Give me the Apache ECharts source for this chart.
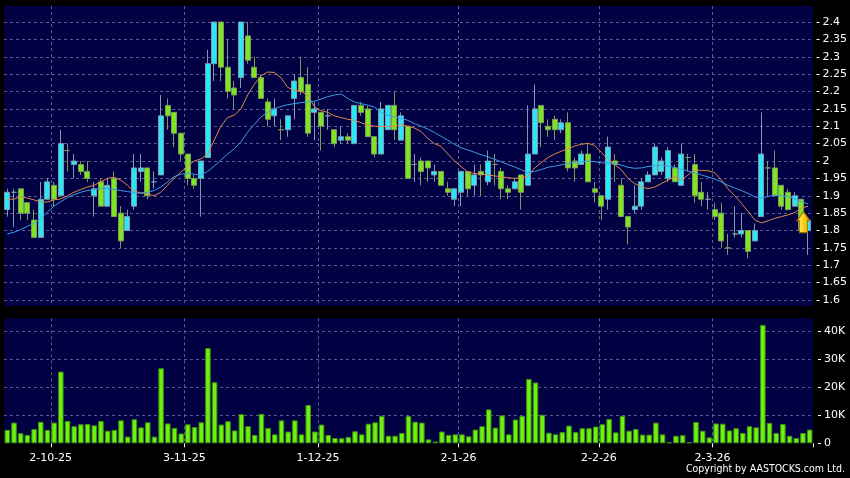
<!DOCTYPE html>
<html><head><meta charset="utf-8">
<script src="https://cdn.jsdelivr.net/npm/echarts@6/dist/echarts.min.js"></script>
<style>html,body{margin:0;padding:0;background:#000;}#c{width:850px;height:478px;}</style>
</head><body><div id="c"></div>
<script>
const dates = [
"22-9-25","23-9-25","24-9-25","25-9-25","26-9-25","29-9-25","30-9-25",
"2-10-25","3-10-25","6-10-25","8-10-25","9-10-25","10-10-25","13-10-25","14-10-25","15-10-25","16-10-25","17-10-25","20-10-25","21-10-25","22-10-25","23-10-25","24-10-25","27-10-25","28-10-25","30-10-25","31-10-25",
"3-11-25","4-11-25","5-11-25","6-11-25","7-11-25","10-11-25","11-11-25","12-11-25","13-11-25","14-11-25","17-11-25","18-11-25","19-11-25","20-11-25","21-11-25","24-11-25","25-11-25","26-11-25","27-11-25","28-11-25",
"1-12-25","2-12-25","3-12-25","4-12-25","5-12-25","8-12-25","9-12-25","10-12-25","11-12-25","12-12-25","15-12-25","16-12-25","17-12-25","18-12-25","19-12-25","22-12-25","23-12-25","24-12-25","29-12-25","30-12-25","31-12-25",
"2-1-26","5-1-26","6-1-26","7-1-26","8-1-26","9-1-26","12-1-26","13-1-26","14-1-26","15-1-26","16-1-26","19-1-26","20-1-26","21-1-26","22-1-26","23-1-26","26-1-26","27-1-26","28-1-26","29-1-26","30-1-26",
"2-2-26","3-2-26","4-2-26","5-2-26","6-2-26","9-2-26","10-2-26","11-2-26","12-2-26","13-2-26","16-2-26","20-2-26","23-2-26","24-2-26","25-2-26","26-2-26","27-2-26",
"2-3-26","3-3-26","4-3-26","5-3-26","6-3-26","9-3-26","10-3-26","11-3-26","12-3-26","13-3-26","16-3-26","17-3-26","18-3-26","19-3-26","20-3-26"];

const tickLabels = ["2-10-25","3-11-25","1-12-25","2-1-26","2-2-26","2-3-26"];

const opens = [1.86,1.91,1.92,1.88,1.83,1.78,1.89,1.93,1.90,2.03,
1.99,1.99,1.97,1.90,1.94,1.87,1.95,1.85,1.80,1.87,
1.97,1.98,1.94,1.96,2.16,2.14,2.08,2.02,1.95,1.95,
2.01,2.28,2.40,2.27,2.21,2.24,2.36,2.27,2.24,2.17,
2.13,2.09,2.09,2.18,2.24,2.22,2.14,2.14,2.13,2.09,
2.06,2.07,2.05,2.16,2.15,2.07,2.02,2.09,2.16,2.06,
2.10,1.99,2.00,2.00,1.96,1.97,1.92,1.89,1.91,1.97,
1.93,1.97,1.94,1.99,1.97,1.92,1.92,1.96,1.93,2.02,
2.16,2.10,2.12,2.09,2.11,2.00,1.99,2.02,1.92,1.90,
1.89,2.00,1.93,1.84,1.86,1.87,1.94,1.96,1.97,1.95,
1.98,1.93,2.01,1.99,1.91,1.89,1.86,1.85,1.75,1.79,
1.79,1.80,1.77,1.84,1.98,1.98,1.93,1.91,1.87,1.89,1.80];
const closes = [1.91,1.91,1.85,1.85,1.78,1.89,1.94,1.89,2.05,2.03,
2.00,1.97,1.95,1.92,1.87,1.93,1.84,1.77,1.84,1.98,
1.98,1.90,1.94,2.13,2.13,2.08,2.02,1.95,1.93,2.00,
2.28,2.40,2.27,2.20,2.19,2.40,2.29,2.24,2.18,2.12,
2.15,2.09,2.13,2.23,2.20,2.08,2.15,2.10,2.13,2.05,
2.07,2.06,2.16,2.14,2.07,2.02,2.15,2.16,2.09,2.13,
1.95,1.99,1.97,1.98,1.97,1.93,1.91,1.92,1.97,1.92,
1.96,1.96,2.00,1.99,1.92,1.91,1.94,1.91,2.02,2.15,
2.11,2.09,2.09,2.11,1.98,1.98,2.02,1.94,1.91,1.87,
2.04,1.99,1.84,1.81,1.87,1.94,1.96,2.04,2.00,2.03,
1.94,2.02,2.01,1.90,1.89,1.89,1.84,1.77,1.75,1.79,
1.80,1.74,1.80,2.02,1.98,1.90,1.87,1.86,1.90,1.80,1.83];
const lows = [1.84,1.81,1.83,1.83,1.78,1.78,1.89,1.87,1.90,1.97,
1.95,1.96,1.94,1.84,1.87,1.87,1.84,1.75,1.80,1.86,
1.94,1.89,1.92,1.96,2.09,2.04,2.00,1.93,1.92,1.84,
2.01,2.23,2.23,2.18,2.15,2.21,2.28,2.24,2.18,2.10,
2.10,2.06,2.07,2.12,2.19,2.07,2.06,2.03,2.09,2.04,
2.05,2.05,2.05,2.13,2.07,2.01,2.02,2.09,2.06,2.06,
1.95,1.94,1.93,1.94,1.94,1.93,1.90,1.87,1.87,1.90,
1.90,1.90,1.93,1.93,1.89,1.89,1.92,1.86,1.93,2.02,
2.04,2.07,2.06,2.08,1.97,1.94,1.99,1.94,1.88,1.83,
1.86,1.94,1.84,1.76,1.85,1.86,1.94,1.96,1.96,1.94,
1.94,1.93,1.97,1.88,1.87,1.86,1.83,1.75,1.73,1.78,
1.78,1.72,1.77,1.84,1.90,1.90,1.86,1.86,1.87,1.80,1.73];
const highs = [1.92,1.92,1.92,1.88,1.86,1.94,1.95,1.94,2.09,2.05,
2.02,2.00,2.00,1.94,1.95,1.95,1.97,1.87,1.86,2.02,
2.02,1.98,1.97,2.19,2.18,2.14,2.08,2.02,1.96,2.00,
2.32,2.40,2.40,2.35,2.23,2.40,2.40,2.30,2.25,2.18,
2.18,2.12,2.13,2.25,2.30,2.27,2.17,2.14,2.15,2.09,
2.10,2.08,2.16,2.17,2.16,2.07,2.17,2.16,2.20,2.14,
2.10,2.02,2.01,2.00,1.99,1.97,1.94,1.92,1.97,1.97,
1.99,1.99,2.03,2.02,1.98,1.93,1.95,1.96,2.16,2.22,
2.16,2.12,2.13,2.12,2.14,2.01,2.03,2.05,1.94,1.90,
2.07,2.02,1.95,1.84,1.93,1.95,1.97,2.05,2.01,2.04,
1.99,2.05,2.02,2.02,1.94,1.91,1.88,1.88,1.79,1.87,
1.85,1.80,1.82,2.14,2.00,2.03,1.93,1.92,1.91,1.89,1.83];

const ma10 = [1.890,1.890,1.897,1.893,1.888,1.882,1.882,1.888,1.891,1.900,
1.910,1.918,1.925,1.930,1.940,1.950,1.953,1.945,1.930,1.912,
1.909,1.905,1.900,1.910,1.930,1.950,1.968,1.985,2.000,2.006,
2.020,2.060,2.100,2.125,2.132,2.150,2.190,2.220,2.245,2.256,
2.255,2.240,2.212,2.203,2.200,2.190,2.156,2.145,2.140,2.130,
2.125,2.120,2.117,2.110,2.104,2.100,2.099,2.099,2.100,2.104,
2.100,2.095,2.085,2.065,2.050,2.042,2.020,2.000,1.984,1.968,
1.964,1.962,1.960,1.957,1.955,1.952,1.950,1.952,1.955,1.980,
1.995,2.010,2.020,2.028,2.035,2.043,2.048,2.051,2.045,2.025,
2.005,1.990,1.975,1.950,1.935,1.926,1.920,1.925,1.935,1.945,
1.955,1.945,1.960,1.974,1.973,1.972,1.966,1.945,1.920,1.900,
1.878,1.855,1.830,1.822,1.828,1.835,1.840,1.845,1.852,1.865,1.870];
const ma20 = [1.790,1.795,1.803,1.812,1.820,1.835,1.853,1.870,1.883,1.895,
1.903,1.910,1.915,1.918,1.921,1.921,1.918,1.915,1.912,1.909,
1.907,1.910,1.915,1.925,1.940,1.955,1.962,1.965,1.962,1.960,
1.970,1.985,2.003,2.020,2.035,2.055,2.083,2.105,2.127,2.140,
2.150,2.157,2.162,2.165,2.168,2.170,2.172,2.178,2.185,2.190,
2.193,2.180,2.170,2.165,2.161,2.155,2.140,2.132,2.127,2.123,
2.117,2.108,2.100,2.092,2.082,2.071,2.060,2.048,2.038,2.032,
2.025,2.018,2.012,2.005,1.998,1.990,1.983,1.975,1.966,1.970,
1.975,1.982,1.985,1.989,1.992,1.996,1.998,2.000,1.998,1.995,
1.994,1.993,1.988,1.982,1.979,1.980,1.984,1.986,1.988,1.986,
1.981,1.977,1.971,1.966,1.960,1.954,1.948,1.940,1.930,1.922,
1.915,1.907,1.897,1.893,1.898,1.902,1.900,1.898,1.891,1.883,1.876];

const volumes = [4800,7400,3600,3000,5100,7700,4800,7400,25600,8000,
6100,6800,6900,6400,8000,4500,4800,8200,2400,8600,
5700,7500,2400,26800,7100,5500,3500,6800,5800,7500,
34000,21800,6700,7900,4600,10400,6100,3000,10500,5500,
3200,8200,4200,8200,3200,13700,4200,6700,3000,1900,
1800,2300,4300,3200,7000,7500,9800,2700,2700,3700,
9800,7700,7400,1400,600,4200,3000,3200,3200,2500,
4900,6100,12100,5600,10000,3200,8500,9800,23000,21700,
10200,3800,3200,4000,6300,4000,5400,5400,6000,6800,
8700,3900,9800,4500,5100,3100,3100,7400,3200,400,
2700,2900,400,7600,4500,2100,7100,7000,4600,5400,
3700,6100,5700,42300,7300,3700,6900,2700,1900,3700,4900];

const candleData = dates.map((d, i) => [opens[i], closes[i], lows[i], highs[i]]);
const pickTick = (idx, val) => tickLabels.indexOf(val) >= 0;

const FONT = "'DejaVu Sans',sans-serif";
const FONT_C = "'DejaVu Sans Condensed','DejaVu Sans',sans-serif";
const NAVY = '#000042';
const gridDash = {color: '#5c5c90', width: 1, type: [3, 3]};

const chart = echarts.init(document.getElementById('c'), null, {renderer: 'canvas'});
chart.setOption({
  backgroundColor: '#000000',
  animation: false,
  grid: [
    {left: 4, right: 37, top: 22, height: 278},
    {left: 4, right: 37, top: 318.3, height: 125, show: true, backgroundColor: NAVY, borderWidth: 0},
    {left: 4, right: 37, top: 6, height: 300, show: true, backgroundColor: NAVY, borderWidth: 0}
  ],
  xAxis: [
    {type: 'category', gridIndex: 0, data: dates, boundaryGap: true,
     axisLine: {show: false}, axisTick: {show: false}, axisLabel: {show: false}, splitLine: {show: false}},
    {type: 'category', gridIndex: 1, data: dates, boundaryGap: true,
     axisLine: {show: false},
     axisTick: {show: true, interval: pickTick, length: 4, lineStyle: {color: '#ffffff'}},
     axisLabel: {show: true, interval: pickTick, color: '#ffffff', fontSize: 11, fontFamily: FONT, margin: 9, padding: [0, 7, 0, 0]},
     splitLine: {show: true, interval: pickTick, showMaxLine: false, lineStyle: gridDash}},
    {type: 'category', gridIndex: 2, data: dates, boundaryGap: true,
     axisLine: {show: false}, axisTick: {show: false}, axisLabel: {show: false},
     splitLine: {show: true, interval: pickTick, showMaxLine: false, lineStyle: gridDash}}
  ],
  yAxis: [
    {type: 'value', gridIndex: 0, position: 'right', offset: 5, min: 1.6, max: 2.4, interval: 0.05,
     axisLine: {show: false},
     axisTick: {show: true, length: 3, lineStyle: {color: '#ffffff'}},
     axisLabel: {color: '#ffffff', fontSize: 11, fontFamily: FONT, margin: 6,
       formatter: v => String(parseFloat(v.toFixed(2)))},
     splitLine: {show: true, lineStyle: gridDash}},
    {type: 'value', gridIndex: 1, position: 'right', offset: 5, min: 0, max: 44643, interval: 10000,
     axisLine: {show: false},
     axisTick: {show: true, length: 3, lineStyle: {color: '#ffffff'}},
     axisLabel: {color: '#ffffff', fontSize: 11, fontFamily: FONT, margin: 6, showMaxLabel: false,
       formatter: v => v === 0 ? '0' : (v / 1000) + 'K'},
     splitLine: {show: true, showMaxLine: false, showMinLine: false, lineStyle: gridDash}},
    {type: 'value', gridIndex: 2, min: 0, max: 1, show: false}
  ],
  series: [
    {type: 'candlestick', xAxisIndex: 0, yAxisIndex: 0, data: candleData, barWidth: 5.5,
     itemStyle: {color: '#28e8f8', color0: '#7ee620', borderColor: '#7f9aa8', borderColor0: '#7c9a5c', borderWidth: 1},
     markPoint: {
       silent: true,
       data: [{coord: [119, 1.824], symbol: 'path://M6.5,0 L13,9 L10.5,9 L10.5,21 L2.5,21 L2.5,9 L0,9 Z',
               symbolSize: [13, 21], symbolOffset: [2, 0],
               itemStyle: {color: new echarts.graphic.LinearGradient(0, 0, 1, 0, [{offset: 0, color: '#fff27a'}, {offset: 0.5, color: '#ffd21a'}, {offset: 1, color: '#d69a00'}]),
                           borderColor: '#a07000', borderWidth: 1},
               label: {show: false}}]
     }},
    {type: 'line', xAxisIndex: 0, yAxisIndex: 0, data: ma10, showSymbol: false, symbol: 'none',
     lineStyle: {color: '#e0884a', width: 1}, z: 5},
    {type: 'line', xAxisIndex: 0, yAxisIndex: 0, data: ma20, showSymbol: false, symbol: 'none',
     lineStyle: {color: '#3a9ee8', width: 1}, z: 5},
    {type: 'bar', xAxisIndex: 1, yAxisIndex: 1, data: volumes, barWidth: 5.5,
     itemStyle: {color: '#6cf20e', borderColor: '#3f8f12', borderWidth: 1}}
  ],
  graphic: [
    {type: 'text', right: 5, top: 464, style: {text: 'Copyright by AASTOCKS.com Ltd.', fill: '#ffffff', font: '10.5px ' + FONT_C}}
  ]
});
</script></body></html>
